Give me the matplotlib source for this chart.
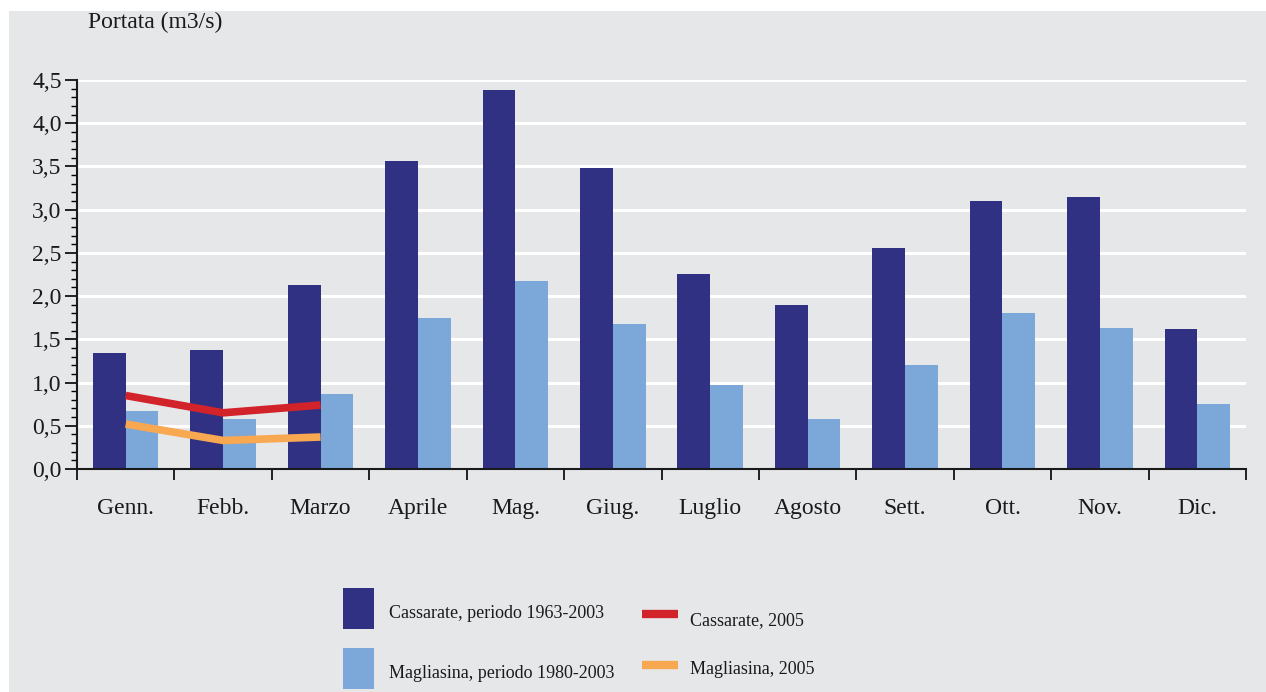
import matplotlib.pyplot as plt
import numpy as np
from matplotlib.patches import Rectangle
from matplotlib.lines import Line2D

# DATI
mesi = ['Genn.', 'Febb.', 'Marzo', 'Aprile', 'Mag.', 'Giug.', 'Luglio',
        'Agosto', 'Sett.', 'Ott.', 'Nov.', 'Dic.']
cassarate_63_03 = [1.34, 1.38, 2.13, 3.56, 4.39, 3.48, 2.26, 1.90, 2.56, 3.10, 3.15, 1.62]
magliasina_80_03 = [0.67, 0.58, 0.87, 1.75, 2.18, 1.68, 0.97, 0.58, 1.20, 1.81, 1.63, 0.75]
cassarate_2005 = [0.85, 0.65, 0.74]
magliasina_2005 = [0.52, 0.33, 0.37]
y_ticks = [0.0, 0.5, 1.0, 1.5, 2.0, 2.5, 3.0, 3.5, 4.0, 4.5]
etichette = ['Cassarate, periodo 1963-2003', 'Magliasina, periodo 1980-2003',
             'Cassarate, 2005', 'Magliasina, 2005']

# COLORI
BG = '#e6e7e9'
BLU = '#303183'
AZZURRO = '#7ba7d9'
ROSSO = '#d2232a'
ARANCIO = '#f9a852'
TESTO = '#1a1a1a'

plt.rcParams['font.family'] = ['Liberation Serif', 'DejaVu Serif']

W, H = 1266, 692
fig = plt.figure(figsize=(W / 100, H / 100), dpi=100)
fig.patch.set_facecolor('white')
fig.add_artist(Rectangle((9 / W, 0), 1 - 9 / W, 1 - 11 / H, transform=fig.transFigure,
                         facecolor=BG, edgecolor='none', zorder=0))

def px(x, y):
    return x / W, 1 - y / H

ax = fig.add_axes([77 / W, (H - 469) / H, (1246 - 77) / W, (469 - 80) / H])
ax.patch.set_alpha(0)

x = np.arange(len(mesi))
bw = 0.336
ax.bar(x - bw / 2, cassarate_63_03, width=bw, color=BLU, zorder=3)
ax.bar(x + bw / 2, magliasina_80_03, width=bw, color=AZZURRO, zorder=3)
ax.plot(x[:3], magliasina_2005, color=ARANCIO, lw=5.5, solid_capstyle='butt', zorder=4)
ax.plot(x[:3], cassarate_2005, color=ROSSO, lw=5.5, solid_capstyle='butt', zorder=5)

ax.set_xlim(-0.5, len(mesi) - 0.5)
ax.set_ylim(0, 4.5)

# griglia bianca
for v in y_ticks[1:]:
    ax.axhline(v, color='white', lw=2.2, zorder=1)

ax.set_yticks(y_ticks)
ax.set_yticklabels([f'{v:.1f}'.replace('.', ',') for v in y_ticks], fontsize=17, color=TESTO)
ax.set_yticks(np.arange(0, 4.51, 0.1), minor=True)
ax.tick_params(axis='y', which='major', direction='out', length=9, width=1.2, pad=2)
ax.tick_params(axis='y', which='minor', direction='out', length=4, width=1.0)

ax.set_xticks(np.arange(-0.5, len(mesi), 1.0))
ax.set_xticklabels([])
ax.set_xticks(x, minor=True)
ax.set_xticklabels(mesi, minor=True, fontsize=17, color=TESTO)
ax.tick_params(axis='x', which='major', direction='out', length=8, width=1.2)
ax.tick_params(axis='x', which='minor', length=0, pad=21)

for s in ['top', 'right']:
    ax.spines[s].set_visible(False)
for s in ['left', 'bottom']:
    ax.spines[s].set_linewidth(1.5)
    ax.spines[s].set_color(TESTO)
    ax.spines[s].set_zorder(6)

fig.text(*px(88, 22), 'Portata (m3/s)', fontsize=17, va='center', ha='left', color=TESTO)

# LEGENDA
fig.add_artist(Rectangle(px(343, 629), 31 / W, 41 / H, transform=fig.transFigure,
                         facecolor=BLU, edgecolor='none'))
fig.add_artist(Rectangle(px(343, 689), 31 / W, 41 / H, transform=fig.transFigure,
                         facecolor=AZZURRO, edgecolor='none'))
fig.text(*px(389, 614), etichette[0], fontsize=13, va='center', color=TESTO)
fig.text(*px(389, 674), etichette[1], fontsize=13, va='center', color=TESTO)
for yy, c in [(614, ROSSO), (665, ARANCIO)]:
    x0, y0 = px(642, yy)
    x1, _ = px(678, yy)
    fig.add_artist(Line2D([x0, x1], [y0, y0], transform=fig.transFigure, color=c, lw=6,
                          solid_capstyle='butt'))
fig.text(*px(690, 621), etichette[2], fontsize=13, va='center', color=TESTO)
fig.text(*px(690, 669), etichette[3], fontsize=13, va='center', color=TESTO)

fig.savefig('out.png', dpi=100, facecolor=fig.get_facecolor())
